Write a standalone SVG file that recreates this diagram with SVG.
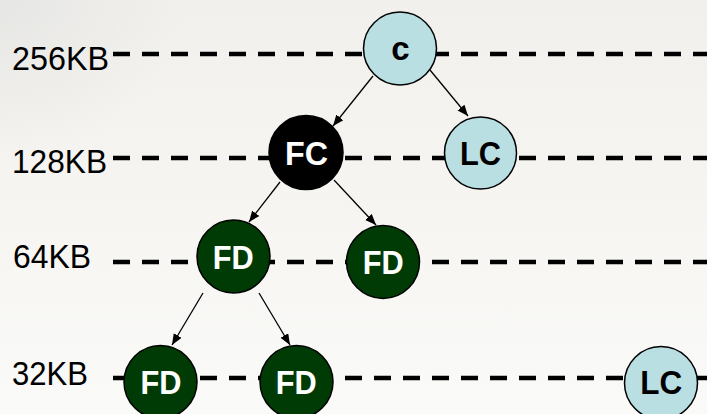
<svg xmlns="http://www.w3.org/2000/svg" width="707" height="414" viewBox="0 0 707 414">
  <defs>
    <marker id="arrow" markerUnits="userSpaceOnUse" markerWidth="12" markerHeight="10" refX="11" refY="4.5" orient="auto">
      <path d="M0,0 L11,4.5 L0,9 z" fill="#000"/>
    </marker>
    <linearGradient id="bg" x1="0" y1="0" x2="0" y2="1">
      <stop offset="0" stop-color="#f1f0ed"/>
      <stop offset="0.5" stop-color="#f6f5f2"/>
      <stop offset="1" stop-color="#fafaf8"/>
    </linearGradient>
    <radialGradient id="corner" cx="0" cy="0" r="1">
      <stop offset="0" stop-color="#e4e4e2" stop-opacity="0.8"/>
      <stop offset="1" stop-color="#e4e4e2" stop-opacity="0"/>
    </radialGradient>
    <style>
      .level { stroke: #000; stroke-width: 4.3; stroke-dasharray: 17 12; fill: none; }
      .edge { stroke: #000; stroke-width: 1.3; fill: none; marker-end: url(#arrow); }
      .label { font-family: "Liberation Sans", Arial, sans-serif; font-size: 33px; fill: #000; }
      .node circle { stroke: #000; stroke-width: 1.5; }
      .cache circle { fill: #b9dfe2; }
      .fc circle { fill: #000; }
      .fd circle { fill: #003b05; }
      .node text { font-family: "Liberation Sans", Arial, sans-serif; font-weight: bold; font-size: 33px; text-anchor: middle; }
      .cache text { fill: #000; }
      .fc text, .fd text { fill: #fff; }
    </style>
  </defs>

  <!-- background -->
  <rect x="0" y="0" width="707" height="414" fill="url(#bg)"/>
  <rect x="0" y="0" width="180" height="160" fill="url(#corner)"/>

  <!-- size level labels -->
  <g id="levels">
    <text class="label" x="12" y="70" textLength="97" lengthAdjust="spacingAndGlyphs">256KB</text>
    <text class="label" x="12" y="173" textLength="95" lengthAdjust="spacingAndGlyphs">128KB</text>
    <text class="label" x="13" y="268" textLength="78" lengthAdjust="spacingAndGlyphs">64KB</text>
    <text class="label" x="12" y="385" textLength="76" lengthAdjust="spacingAndGlyphs">32KB</text>
    <line class="level" x1="113" y1="54" x2="707" y2="54"/>
    <line class="level" x1="113" y1="158" x2="707" y2="158"/>
    <line class="level" x1="113" y1="262" x2="707" y2="262"/>
    <line class="level" x1="113" y1="378" x2="707" y2="378"/>
  </g>

  <!-- connectors -->
  <g id="connectors">
    <line class="edge" x1="373" y1="76" x2="333" y2="126"/>
    <line class="edge" x1="430" y1="70" x2="468" y2="116"/>
    <line class="edge" x1="280" y1="182" x2="249" y2="222"/>
    <line class="edge" x1="334" y1="180" x2="376" y2="225"/>
    <line class="edge" x1="203" y1="293" x2="172" y2="345"/>
    <line class="edge" x1="259" y1="293" x2="290" y2="345"/>
  </g>

  <!-- nodes -->
  <g id="node-c" class="node cache">
    <circle cx="400" cy="48.5" r="36.5"/>
    <text x="400.5" y="60" font-size="30">c</text>
  </g>
  <g id="node-fc" class="node fc">
    <circle cx="306" cy="152.5" r="37"/>
    <text x="306.5" y="165" textLength="43" lengthAdjust="spacingAndGlyphs">FC</text>
  </g>
  <g id="node-lc-128" class="node cache">
    <circle cx="480.5" cy="153" r="36"/>
    <text x="480.5" y="165" textLength="41" lengthAdjust="spacingAndGlyphs">LC</text>
  </g>
  <g id="node-fd-64a" class="node fd">
    <circle cx="233.5" cy="256.5" r="36.5"/>
    <text x="233.3" y="269" textLength="41" lengthAdjust="spacingAndGlyphs">FD</text>
  </g>
  <g id="node-fd-64b" class="node fd">
    <circle cx="383" cy="262" r="36.5"/>
    <text x="383.3" y="274" textLength="41" lengthAdjust="spacingAndGlyphs">FD</text>
  </g>
  <g id="node-fd-32a" class="node fd">
    <circle cx="160.5" cy="382" r="36.5"/>
    <text x="161" y="394" textLength="41" lengthAdjust="spacingAndGlyphs">FD</text>
  </g>
  <g id="node-fd-32b" class="node fd">
    <circle cx="296.5" cy="382" r="36.5"/>
    <text x="296.2" y="394" textLength="41" lengthAdjust="spacingAndGlyphs">FD</text>
  </g>
  <g id="node-lc-32" class="node cache">
    <circle cx="661" cy="383" r="36.5"/>
    <text x="661.3" y="393.5" textLength="42" lengthAdjust="spacingAndGlyphs">LC</text>
  </g>
</svg>
